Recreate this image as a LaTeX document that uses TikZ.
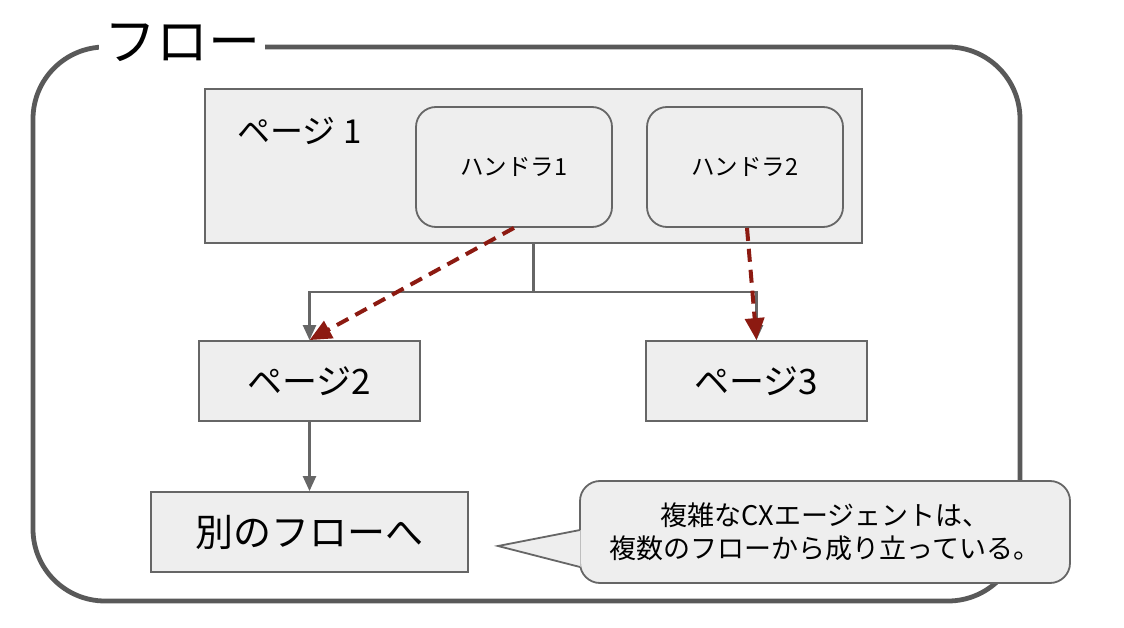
\documentclass[tikz,border=0pt]{standalone}
\usepackage{fontspec}
\setmainfont{Noto Sans CJK JP}
\usetikzlibrary{arrows.meta}
\definecolor{framegray}{HTML}{595959}
\definecolor{boxgray}{HTML}{666666}
\definecolor{boxfill}{HTML}{EEEEEE}
\definecolor{darkred}{HTML}{8C1A11}
\tikzset{
  box/.style={draw=boxgray, fill=boxfill, line width=1.8pt, inner sep=0pt},
  hbox/.style={box, rounded corners=20pt, minimum width=196pt, minimum height=120pt, font=\fontsize{23.5}{28}\selectfont},
  pbox/.style={box, minimum width=221pt, minimum height=80pt, font=\fontsize{35}{40}\selectfont},
  conn/.style={draw=boxgray, line width=2.3pt},
  connarrow/.style={conn, -{Triangle[length=15pt,width=13pt]}},
  redarrow/.style={draw=darkred, line width=4pt, dash pattern=on 13pt off 8pt, -{Triangle[length=22pt,width=19pt]}},
}
\begin{document}
\begin{tikzpicture}[x=1pt,y=-1pt]
\useasboundingbox (0,0) rectangle (1124,628);
% outer frame
\draw[framegray, line width=4.8pt, rounded corners=72pt] (33,47) rectangle (1020,601);
\node[fill=white, inner xsep=5pt, inner ysep=2pt, font=\fontsize{52}{58}\selectfont] (title) at (182,43) {フロー};
% page 1
\node[box, minimum width=657pt, minimum height=154pt] (page1) at (533.5,166) {};
\node[font=\fontsize{33}{38}\selectfont, anchor=west] (p1label) at (234,131) {ページ 1};
\node[hbox] (h1) at (514,167) {ハンドラ1};
\node[hbox] (h2) at (745,167) {ハンドラ2};
% pages
\node[pbox] (page2) at (309.5,381) {ページ2};
\node[pbox] (page3) at (756.5,381) {ページ3};
\node[box, minimum width=317pt, minimum height=80pt, font=\fontsize{38}{44}\selectfont] (other) at (309.5,532) {別のフローへ};
% connectors
\coordinate (j) at (page1.south |- 0,292);
\draw[conn] (page1.south) -- (j);
\draw[connarrow] (j) -| (page2.north);
\draw[connarrow] (j) -| (page3.north);
\draw[connarrow] (page2.south) -- (other.north);
% red dashed arrows
\draw[redarrow] (h1.south) -- (page2.north);
\draw[redarrow] ([xshift=2pt]h2.south) -- (page3.north);
% callout
\node[box, rounded corners=20pt, minimum width=490pt, minimum height=102pt, align=center, font=\fontsize{27}{33}\selectfont] (callout) at (825,532) {複雑なCXエージェントは、\\複数のフローから成り立っている。};
\coordinate (tip) at (498,546);
\fill[boxfill] (tip) -- (580.5,530) -- (580.5,567) -- cycle;
\draw[boxgray, line width=1.8pt, line join=miter] (580,530) -- (tip) -- (580,567);
\end{tikzpicture}
\end{document}
